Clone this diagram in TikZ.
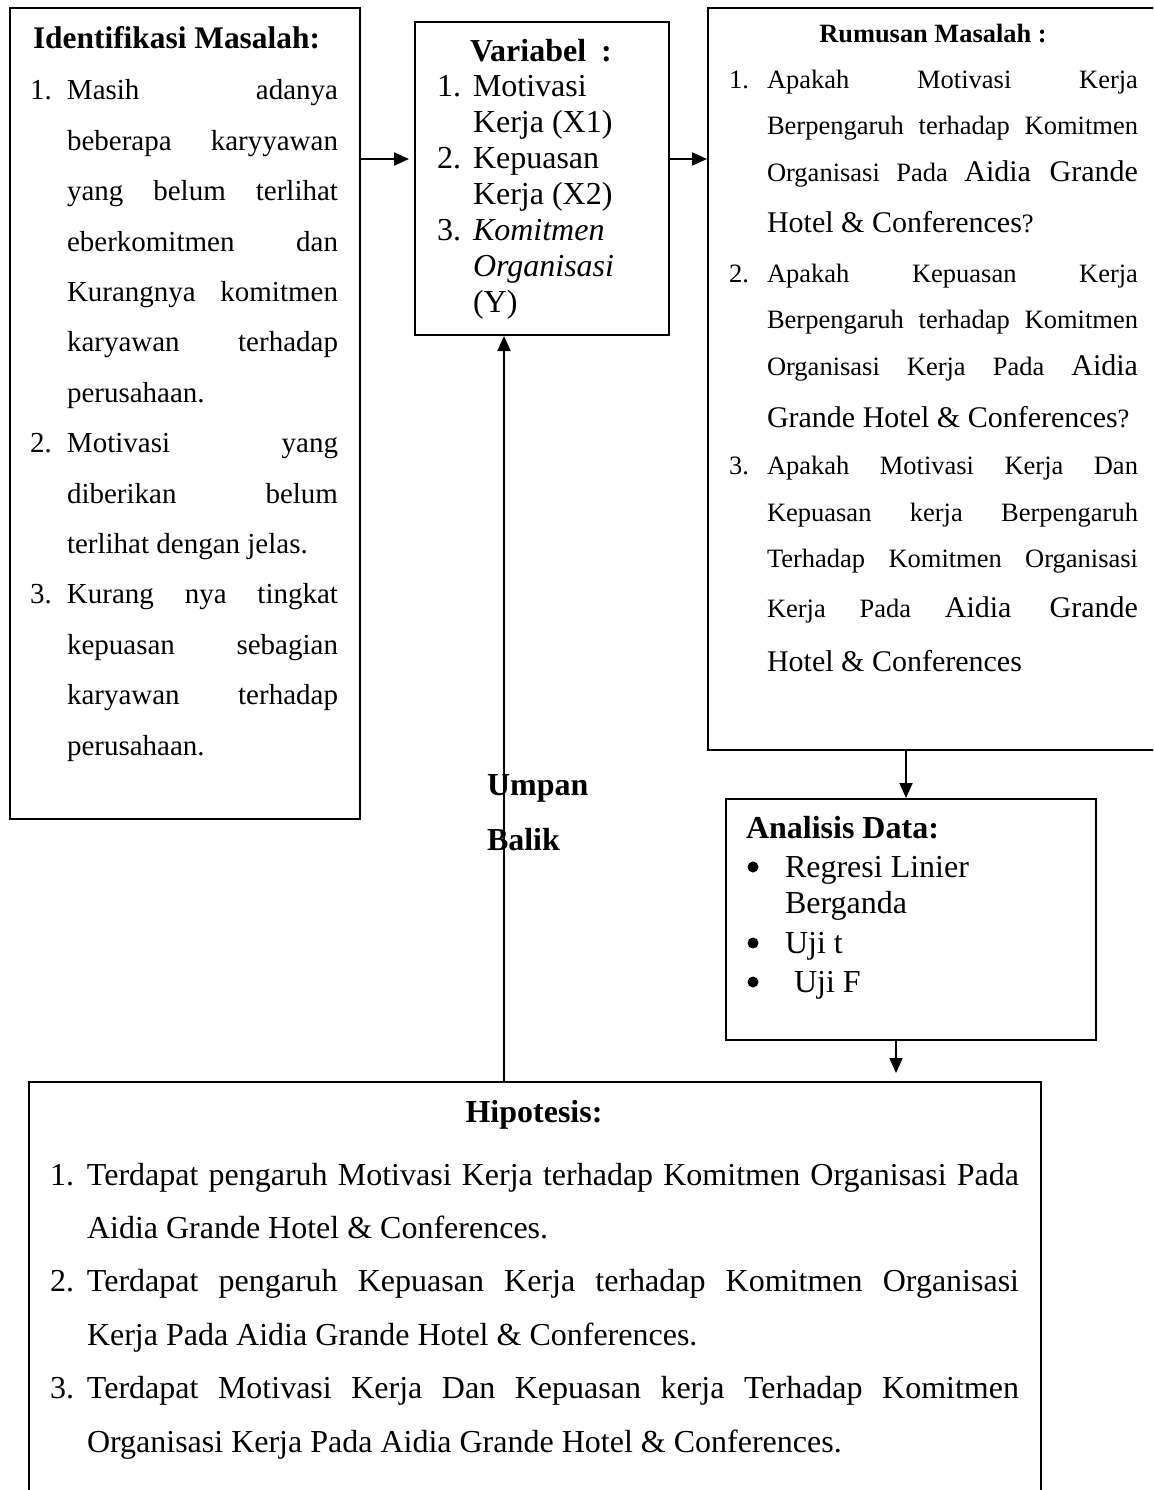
\documentclass[tikz,border=0pt]{standalone}
\usepackage{fontspec}
\setmainfont{Liberation Serif}
\usetikzlibrary{arrows.meta}
\newcommand\fsz[1]{\fontsize{#1}{#1}\selectfont}
\newcommand\js[2]{\makebox[#1pt][s]{#2}}
\newlength\numw
\newcommand\numln[2]{\hbox{\makebox[\numw][l]{#1}#2}}
\newcommand\smr{\fontsize{26.5}{30}\selectfont}
\newcommand\lgr{\fontsize{30}{34}\selectfont}
\tikzset{
  box/.style={draw, line width=2pt, anchor=north west, inner sep=0pt, fill=none},
  arr/.style={line width=2pt, -{Triangle[length=15pt,width=13pt]}},
  txt/.style={anchor=base west, inner sep=0pt, outer sep=0pt},
  ttl/.style={txt, font=\bfseries\fsz{32}},
  bul/.style={circle, fill=black, minimum size=11pt, inner sep=0pt},
}
\begin{document}
\begin{tikzpicture}[x=1pt,y=1pt]
\clip (0,0) rectangle (1153,-1490);
\fill[white] (0,0) rectangle (1153,-1490);

% ---------- boxes ----------
\node[box, minimum width=350pt, minimum height=811pt] (idm) at (9,-7) {};
\node[box, minimum width=254pt, minimum height=313pt] (var) at (414,-21) {};
\node[box, minimum width=470pt, minimum height=742pt] (rum) at (707,-7) {};
\node[box, minimum width=370pt, minimum height=241pt] (ana) at (725,-798) {};
\node[box, minimum width=1012pt, minimum height=440pt] (hip) at (28,-1081) {};

% ---------- Identifikasi Masalah ----------
\node[txt, font=\bfseries\fsz{31.4}] (idmT) at (33,-49) {Identifikasi Masalah:};
\node[txt] (idmB) at (30,-100) {\begin{minipage}[t]{320pt}\fsz{29}\baselineskip=50.4pt\parindent=0pt\setlength\numw{37pt}%
\numln{1.}{\js{271}{Masih adanya}}
\numln{}{\js{271}{beberapa karyyawan}}
\numln{}{\js{271}{yang belum terlihat}}
\numln{}{\js{271}{eberkomitmen dan}}
\numln{}{\js{271}{Kurangnya komitmen}}
\numln{}{\js{271}{karyawan terhadap}}
\numln{}{perusahaan.}
\numln{2.}{\js{271}{Motivasi yang}}
\numln{}{\js{271}{diberikan belum}}
\numln{}{terlihat dengan jelas.}
\numln{3.}{\js{271}{Kurang nya tingkat}}
\numln{}{\js{271}{kepuasan sebagian}}
\numln{}{\js{271}{karyawan terhadap}}
\numln{}{perusahaan.}
\end{minipage}};

% ---------- Variabel ----------
\node[ttl] (varT) at (470,-62) {Variabel\hspace{15pt}:};
\node[txt] (varB) at (437,-97) {\begin{minipage}[t]{225pt}\fsz{32}\baselineskip=36pt\parindent=0pt\setlength\numw{36pt}%
\numln{1.}{Motivasi}
\numln{}{Kerja (X1)}
\numln{2.}{Kepuasan}
\numln{}{Kerja (X2)}
\numln{3.}{\textit{Komitmen}}
\numln{}{\textit{Organisasi}}
\numln{}{(Y)}
\end{minipage}};

% ---------- Rumusan Masalah ----------
\node[anchor=base, inner sep=0pt, font=\bfseries\fontsize{26.4}{30}\selectfont] (rumT) at (933,-43) {Rumusan Masalah :};
\node[txt, font=\smr] (rn1) at (729,-89) {1.};
\node[txt] (r1) at (767,-89) {\js{371}{\smr Apakah Motivasi Kerja}};
\node[txt] (r2) at (767,-135) {\js{371}{\smr Berpengaruh terhadap Komitmen}};
\node[txt] (r3) at (767,-182) {\js{371}{\smr Organisasi Pada {\lgr Aidia Grande}}};
\node[txt] (r4) at (767,-232) {\lgr Hotel \& Conferences{\smr ?}};
\node[txt, font=\smr] (rn2) at (729,-282) {2.};
\node[txt] (r5) at (767,-282) {\js{371}{\smr Apakah Kepuasan Kerja}};
\node[txt] (r6) at (767,-328) {\js{371}{\smr Berpengaruh terhadap Komitmen}};
\node[txt] (r7) at (767,-375) {\js{371}{\smr Organisasi Kerja Pada {\lgr Aidia}}};
\node[txt] (r8) at (767,-427) {\lgr Grande Hotel \& Conferences{\smr ?}};
\node[txt, font=\smr] (rn3) at (729,-474) {3.};
\node[txt] (r9) at (767,-474) {\js{371}{\smr Apakah Motivasi Kerja Dan}};
\node[txt] (r10) at (767,-521) {\js{371}{\smr Kepuasan kerja Berpengaruh}};
\node[txt] (r11) at (767,-567) {\js{371}{\smr Terhadap Komitmen Organisasi}};
\node[txt] (r12) at (767,-617) {\js{371}{\smr Kerja Pada {\lgr Aidia Grande}}};
\node[txt] (r13) at (767,-671) {\lgr Hotel \& Conferences};

% ---------- Analisis Data ----------
\node[ttl] (anaT) at (746,-838) {Analisis Data:};
\node[bul] (ab1) at (753,-867) {};
\node[txt, font=\fsz{32}] (a1) at (785,-877) {Regresi Linier};
\node[txt, font=\fsz{32}] (a2) at (785,-913) {Berganda};
\node[bul] (ab2) at (753,-943) {};
\node[txt, font=\fsz{32}] (a3) at (785,-953) {Uji t};
\node[bul] (ab3) at (753,-982) {};
\node[txt, font=\fsz{32}] (a4) at (794,-992) {Uji F};

% ---------- Hipotesis ----------
\node[anchor=base, inner sep=0pt, font=\bfseries\fsz{32}] (hipT) at (534,-1122) {Hipotesis:};
\node[txt] (hipB) at (50,-1185) {\begin{minipage}[t]{980pt}\fsz{32}\baselineskip=53.4pt\parindent=0pt\setlength\numw{37pt}%
\numln{1.}{\js{932}{Terdapat pengaruh Motivasi Kerja terhadap Komitmen Organisasi Pada}}
\numln{}{Aidia Grande Hotel \& Conferences.}
\numln{2.}{\js{932}{Terdapat pengaruh Kepuasan Kerja terhadap Komitmen Organisasi}}
\numln{}{Kerja Pada Aidia Grande Hotel \& Conferences.}
\numln{3.}{\js{932}{Terdapat Motivasi Kerja Dan Kepuasan kerja Terhadap Komitmen}}
\numln{}{Organisasi Kerja Pada Aidia Grande Hotel \& Conferences.}
\end{minipage}};

% ---------- connectors ----------
\draw[arr, shorten >=5pt] ([yshift=-152pt]idm.north east) -- ([yshift=-138pt]var.north west);
\draw[arr] ([yshift=-138pt]var.north east) -- ([yshift=-152pt]rum.north west);
\draw[arr] ([xshift=-5pt]ana.north |- rum.south) -- ([xshift=-5pt]ana.north);
\draw[arr, shorten >=8pt] ([xshift=-15pt]ana.south) -- ([xshift=-15pt]ana.south |- hip.north);
\draw[arr] ([xshift=-38pt]var.south |- hip.north) -- ([xshift=-38pt]var.south);

% ---------- feedback label ----------
\node[ttl] (fb1) at (487,-795) {Umpan};
\node[ttl] (fb2) at (487,-850) {Balik};
\end{tikzpicture}
\end{document}
